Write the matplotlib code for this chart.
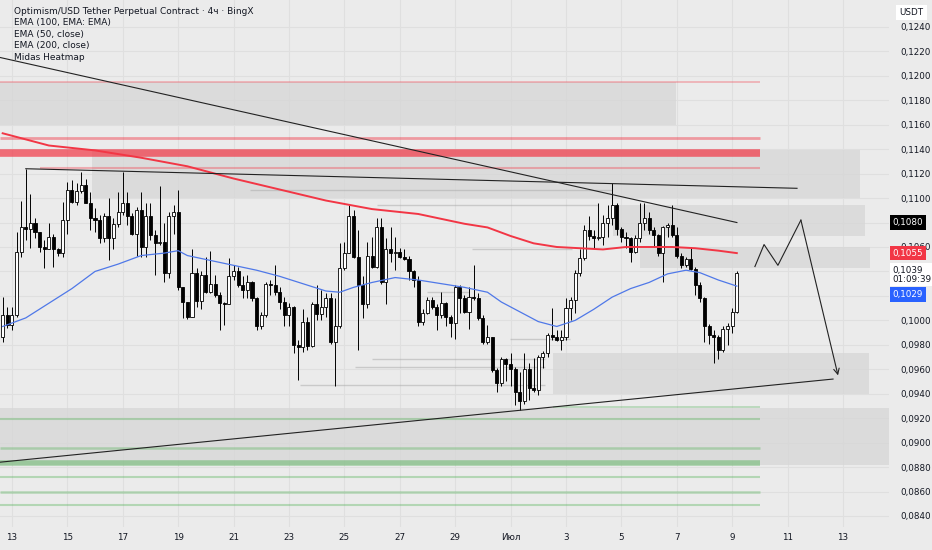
import matplotlib
matplotlib.use("Agg")
import matplotlib.pyplot as plt
import matplotlib.transforms as mtransforms
from matplotlib.patches import Rectangle
import numpy as np

# prices are written in units of 0.0001 USDT
PIP = 1e-4

# 4h candles, first bar = 12 June 16:00, x axis = days since 13 June
first_bar = -1 / 3
bar_len = 1 / 6
first_open = 986
closes = [1004, 996, 1004, 1056, 1076, 1075, 1080, 1072, 1060, 1058, 1068, 1058, 1055, 1082, 1107, 1097, 1106, 1111, 1096, 1084,
          1082, 1067, 1085, 1067, 1079, 1089, 1096, 1085, 1071, 1090, 1060, 1085, 1070, 1063, 1064, 1039, 1085, 1089, 1027, 1015,
          1003, 1039, 1016, 1037, 1023, 1030, 1021, 1014, 1013, 1036, 1040, 1029, 1025, 1031, 1018, 995, 1004, 1030, 1029, 1023,
          1015, 1004, 1011, 980, 978, 999, 979, 1013, 1005, 1011, 1018, 982, 995, 1043, 1055, 1085, 1052, 1029, 1013, 1053,
          1044, 1076, 1031, 1058, 1055, 1056, 1052, 1050, 1040, 1033, 999, 1006, 1017, 1011, 1004, 1014, 1003, 998, 1027, 1018,
          1007, 1019, 1018, 1002, 982, 986, 959, 949, 968, 964, 960, 941, 934, 960, 945, 943, 970, 973, 988, 986,
          984, 986, 1010, 1017, 1039, 1051, 1074, 1069, 1067, 1068, 1080, 1084, 1094, 1075, 1068, 1067, 1056, 1067, 1080, 1084,
          1074, 1070, 1055, 1076, 1078, 1070, 1053, 1045, 1050, 1042, 1029, 1018, 995, 988, 986, 976, 993, 995, 1007, 1039]
highs = [1019, 1011, 1011, 1072, 1098, 1124, 1103, 1084, 1072, 1066, 1080, 1071, 1059, 1097, 1113, 1115, 1112, 1121, 1116, 1105,
         1092, 1086, 1088, 1100, 1084, 1105, 1121, 1105, 1088, 1093, 1105, 1096, 1096, 1074, 1110, 1080, 1089, 1094, 1107, 1027,
         1015, 1058, 1043, 1040, 1052, 1057, 1037, 1023, 1015, 1051, 1045, 1044, 1036, 1037, 1032, 1019, 1007, 1031, 1033, 1045,
         1027, 1019, 1014, 1012, 984, 1009, 1003, 1015, 1029, 1025, 1022, 1022, 1018, 1063, 1064, 1094, 1090, 1074, 1036, 1064,
         1068, 1084, 1084, 1067, 1076, 1068, 1059, 1058, 1053, 1041, 1036, 1009, 1019, 1019, 1013, 1023, 1015, 1004, 1029, 1029,
         1021, 1027, 1045, 1022, 1004, 996, 986, 961, 970, 969, 973, 962, 958, 973, 965, 969, 972, 975, 990, 1010,
         992, 992, 1018, 1019, 1041, 1058, 1078, 1085, 1074, 1096, 1086, 1094, 1112, 1096, 1076, 1072, 1068, 1070, 1096, 1096,
         1089, 1076, 1071, 1077, 1080, 1094, 1076, 1055, 1052, 1060, 1044, 1031, 1019, 997, 992, 988, 995, 998, 1010, 1040]
lows = [982, 994, 992, 1003, 1052, 1066, 1059, 1067, 1056, 1043, 1058, 1044, 1053, 1052, 1071, 1096, 1094, 1104, 1096, 1074,
        1072, 1063, 1064, 1049, 1058, 1076, 1086, 1078, 1070, 1053, 1052, 1052, 1066, 1037, 1062, 1031, 1035, 1071, 1025, 1002,
        1001, 1003, 1011, 1009, 1022, 1022, 1019, 992, 996, 1014, 1033, 1027, 1018, 1018, 1016, 992, 993, 1003, 1021, 1021,
        1009, 995, 995, 973, 951, 974, 976, 978, 1000, 1000, 1003, 981, 946, 994, 1041, 1055, 1051, 976, 1002, 1010,
        1043, 1043, 1030, 1013, 1048, 1041, 1051, 1049, 1033, 1027, 995, 996, 1005, 1009, 992, 1002, 995, 986, 985, 1006,
        1006, 993, 1017, 1000, 981, 981, 958, 941, 946, 950, 946, 931, 927, 932, 935, 941, 939, 961, 970, 984,
        983, 976, 984, 1000, 1006, 1036, 1049, 1066, 1059, 1066, 1062, 1068, 1078, 1070, 1064, 1059, 1048, 1055, 1064, 1074,
        1071, 1060, 1053, 1031, 1068, 1068, 1051, 1043, 1044, 1041, 1021, 1015, 982, 981, 965, 968, 974, 980, 990, 1006]

# moving averages read at some bars
ema200_bar = [0, 10, 20, 30, 40, 50, 60, 70, 80, 90, 100, 105, 110, 115, 120, 125, 130, 135, 140, 145, 150, 155, 159]
ema200 = [1153, 1143, 1139, 1133, 1126, 1116, 1107, 1098, 1091, 1087, 1079, 1076, 1069, 1063, 1060, 1059, 1058, 1060, 1060, 1060,
          1059, 1057, 1055]
ema50_bar = [0, 5, 10, 15, 20, 25, 30, 35, 38, 40, 45, 50, 55, 60, 65, 70, 73, 76, 80, 85, 90, 95, 100, 105, 108, 112, 116,
             120, 124, 128, 132, 136, 140, 144, 148, 151, 155, 159]
ema50 = [995, 1002, 1014, 1026, 1040, 1046, 1053, 1055, 1057, 1053, 1049, 1045, 1041, 1036, 1030, 1024, 1023, 1027, 1031, 1035,
         1033, 1030, 1027, 1023, 1015, 1007, 999, 995, 1000, 1009, 1019, 1026, 1031, 1038, 1041, 1039, 1033, 1028]

# heatmap zones (grey boxes)
zone_x0 = [-0.43, 2.89, 21.7, 22.67, 19.53, -0.43]
zone_x1 = [23.97, 30.61, 30.79, 30.97, 30.94, 31.66]
zone_lo = [1160, 1100, 1069, 1043, 940, 882]
zone_hi = [1195, 1139, 1094, 1060, 973, 928]

# heatmap levels
red_levels = [1195, 1149, 1137, 1125]
red_x0 = [-0.43, -0.43, -0.43, 1.01]
green_levels = [929, 919, 896, 883, 872, 860, 849]
green_x0 = [19.53, -0.43, -0.43, -0.43, -0.43, -0.43, -0.43]
level_x1 = 27.0
faint_levels = [1107, 1094, 1058, 1023, 985, 968, 962, 947]
faint_x0 = [8.59, 13.18, 16.6, 15.0, 17.98, 13.0, 12.4, 10.4]
faint_x1 = [21.66, 21.16, 20.2, 16.5, 20.14, 19.24, 19.24, 19.24]

# drawings
down_line_x = [-0.43, 26.17]
down_line_p = [1215, 1080]
flat_line_x = [0.5, 28.34]
flat_line_p = [1124, 1108]
up_line_x = [-0.43, 29.64]
up_line_p = [884, 952]
path_x = [26.82, 27.15, 27.65, 28.48, 29.82]
path_p = [1044, 1062, 1045, 1082, 955]

date_ticks = [0, 2, 4, 6, 8, 10, 12, 14, 16, 18, 20, 22, 24, 26, 28, 30]
date_labels = ["13", "15", "17", "19", "21", "23", "25", "27", "29", "Июл", "3", "5", "7", "9", "11", "13"]
price_ticks = np.arange(840, 1241, 20)
hidden_ticks = [1020, 1040, 1080]  # covered by the price labels

bg = "#ebebeb"
fig = plt.figure(figsize=(9.32, 5.5), dpi=100, facecolor=bg)
ax = fig.add_axes([0, 23 / 550, 889 / 932, 527 / 550])
ax.set_facecolor(bg)
for s in ax.spines.values():
    s.set_visible(False)

c = np.array(closes) * PIP
o = np.concatenate([[first_open], closes[:-1]]) * PIP
h = np.maximum(np.array(highs) * PIP, np.maximum(o, c))
l = np.minimum(np.array(lows) * PIP, np.minimum(o, c))
t = first_bar + np.arange(len(closes)) * bar_len

for x0, x1, lo, hi in zip(zone_x0, zone_x1, zone_lo, zone_hi):
    ax.add_patch(Rectangle((x0, lo * PIP), x1 - x0, (hi - lo) * PIP, fc="#d6d6d6", ec="none", alpha=0.75, zorder=0.6))

red_lw = [1.2, 2.0, 5.5, 1.5]
red_alpha = [0.35, 0.45, 0.7, 0.35]
for lev, x0, lw, a in zip(red_levels, red_x0, red_lw, red_alpha):
    ax.hlines(lev * PIP, x0, level_x1, color="#f23645", lw=lw, alpha=a, zorder=1)
green_lw = [1.2, 1.5, 1.8, 4.0, 1.5, 1.8, 1.5]
for lev, x0, lw in zip(green_levels, green_x0, green_lw):
    ax.hlines(lev * PIP, x0, level_x1, color="#4caf50", lw=lw, alpha=0.35 if lw < 3 else 0.45, zorder=1)
for lev, x0, x1 in zip(faint_levels, faint_x0, faint_x1):
    ax.hlines(lev * PIP, x0, x1, color="#a8a8a8", lw=1.0, alpha=0.5, zorder=1)

# candles
ax.vlines(t, l, h, color="black", lw=0.7, zorder=3)
body = np.where(np.abs(c - o) < 0.00005, 0.00005, c - o)
up = c >= o
ax.bar(t, body, bottom=o, width=0.11, color=np.where(up, "white", "black"), edgecolor="black", linewidth=0.6, zorder=3.5)

ax.plot(first_bar + np.array(ema200_bar) * bar_len, np.array(ema200) * PIP, color="#f23645", lw=1.4, zorder=4)
ax.plot(first_bar + np.array(ema50_bar) * bar_len, np.array(ema50) * PIP, color="#4f78e8", lw=0.9, zorder=4)

ax.plot(down_line_x, np.array(down_line_p) * PIP, color="#222222", lw=0.8, zorder=5)
ax.plot(flat_line_x, np.array(flat_line_p) * PIP, color="#222222", lw=0.8, zorder=5)
ax.plot(up_line_x, np.array(up_line_p) * PIP, color="#222222", lw=0.8, zorder=5)
ax.plot(path_x[:-1], np.array(path_p[:-1]) * PIP, color="#222222", lw=0.8, zorder=5)
ax.annotate("", xy=(path_x[-1], path_p[-1] * PIP), xytext=(path_x[-2], path_p[-2] * PIP),
            arrowprops=dict(arrowstyle="->", color="#222222", lw=0.8, shrinkA=0, shrinkB=0), zorder=5)

ax.set_xlim(-0.43, 31.66)
ax.set_ylim(0.0831, 0.1262)
ax.set_xticks(date_ticks)
ax.set_xticklabels(date_labels)
ax.set_yticks(price_ticks * PIP)
ax.set_yticklabels(["" if v in hidden_ticks else f"{v * PIP:.4f}".replace(".", ",") for v in price_ticks])
ax.yaxis.tick_right()
ax.tick_params(axis="both", length=0, labelsize=6.3, colors="#131722")
ax.tick_params(axis="y", pad=8)
ax.tick_params(axis="x", pad=4)
ax.set_axisbelow(True)
ax.grid(color="#dfdfdf", lw=0.8)

# price labels on the right scale
tr = mtransforms.blended_transform_factory(ax.transAxes, ax.transData)
label_kw = dict(xycoords=tr, textcoords="offset points", ha="left", fontsize=6.3, annotation_clip=False, zorder=10)
ax.annotate("0,1080", (1.004, 0.1080), xytext=(0, 0), va="center", color="white",
            bbox=dict(boxstyle="square,pad=0.3", fc="black", ec="none"), **label_kw)
ax.annotate("0,1055", (1.004, 0.1055), xytext=(0, 0), va="center", color="white",
            bbox=dict(boxstyle="square,pad=0.3", fc="#f23645", ec="none"), **label_kw)
ax.annotate("0,1039\n01:09:39", (1.004, 0.1039), xytext=(0, 5), va="top", color="#131722", linespacing=1.0,
            bbox=dict(boxstyle="square,pad=0.3", fc="white", ec="none"), **label_kw)
ax.annotate("0,1029", (1.004, 0.1029), xytext=(0, -7), va="center", color="white",
            bbox=dict(boxstyle="square,pad=0.3", fc="#2962ff", ec="none"), **label_kw)
fig.text(0.965, 0.978, "USDT", fontsize=6.3, color="#131722", va="center", ha="left",
         bbox=dict(boxstyle="square,pad=0.35", fc="white", ec="none"))

legend_lines = ["Optimism/USD Tether Perpetual Contract · 4ч · BingX", "EMA (100, EMA: EMA)", "EMA (50, close)",
                "EMA (200, close)", "Midas Heatmap"]
for k, txt in enumerate(legend_lines):
    fig.text(14 / 932, 1 - (11 + k * 11.5) / 550, txt, fontsize=6.5, color="#131722", va="center", ha="left",
             fontweight="medium" if k == 0 else "normal")

fig.savefig("out.png", dpi=100, facecolor=bg)
